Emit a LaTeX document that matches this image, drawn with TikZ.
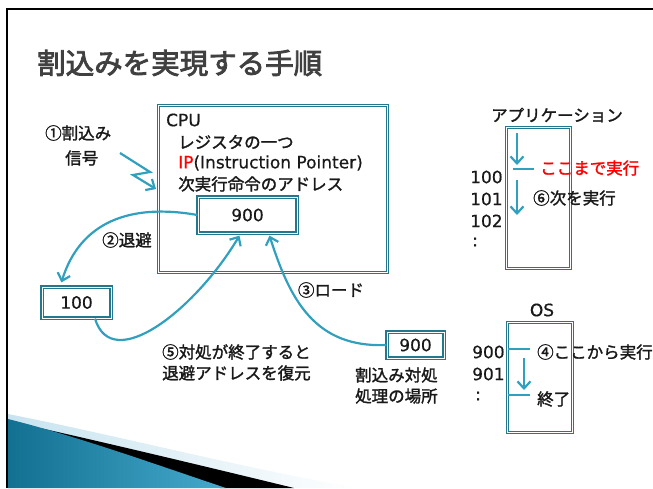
\documentclass[tikz,border=0pt]{standalone}
\usepackage{fontspec}
\setmainfont{Noto Sans CJK JP}[FakeBold=1.6]
\newfontfamily\titlefont{Noto Sans CJK JP}[FakeBold=2.8]
\newfontfamily\lat{DejaVu Sans}[FakeBold=0.6]
\usetikzlibrary{arrows.meta,calc}
\definecolor{boxdark}{RGB}{35,120,142}
\definecolor{arrowc}{RGB}{48,160,190}
\definecolor{titlec}{RGB}{64,64,64}
\definecolor{lightband}{RGB}{200,228,240}
\definecolor{tealA}{RGB}{18,112,145}
\definecolor{tealB}{RGB}{70,170,205}
\begin{document}
\begin{tikzpicture}[x=1pt,y=-1pt,
  txt/.style={inner sep=0pt, font=\fontsize{16.5}{19}\selectfont, text=black!90},
  ltxt/.style={inner sep=0pt, font=\lat\fontsize{17}{19}\selectfont, text=black!90},
  titletxt/.style={inner sep=0pt, font=\titlefont\fontsize{28.5}{32}\selectfont, text=titlec},
  box/.style={draw=boxdark, line width=1.2pt, double=white, double distance=0.9pt, inner sep=0pt},
  arr/.style={draw=arrowc, line width=2.2pt, -{Straight Barb[length=7pt,width=13pt,line width=2.2pt]}},
  tickln/.style={draw=arrowc, line width=2.2pt}]
\useasboundingbox (0,0) rectangle (653,488);
% background swoosh
\shade[left color=lightband, right color=white] (8,414) .. controls (120,436) and (250,470) .. (360,488) -- (8,488) -- cycle;
\fill[black] (40,428) .. controls (120,446) and (220,470) .. (294,488) -- (220,488) .. controls (160,466) and (90,442) .. (40,428) -- cycle;
\shade[left color=tealA, right color=tealB] (8,419) .. controls (80,437) and (160,466) .. (226,488) -- (8,488) -- cycle;
% frame
\draw[line width=2pt] (7,488) -- (7,9) -- (653,9);
% title
\node[titletxt, anchor=west] (title) at (37,63) {割込みを実現する手順};
% CPU
\node[box, anchor=north west, minimum width=229pt, minimum height=167pt] (cpu) at (158,105) {};
\node[ltxt, anchor=west] (cpulbl) at (166,120) {CPU};
\node[txt, anchor=west] (reg) at (178,142) {レジスタの一つ};
\node[ltxt, anchor=west] (iplbl) at (178,163) {\textcolor{red}{IP}(Instruction Pointer)};
\node[txt, anchor=west] (next) at (178,184) {次実行命令のアドレス};
\node[box, minimum width=99pt, minimum height=36pt, ltxt] (ip) at (247.5,215) {900};
% interrupt signal
\node[txt, anchor=west] (sig1) at (45,133) {①割込み};
\node[txt, anchor=west] (sig2) at (65,158) {信号};
\coordinate (z0) at (120,153);
\coordinate (z1) at (150,172);
\coordinate (z2) at (133,175);
\coordinate (z3) at (156,189);
\draw[arr] (z0) -- (z1) -- (z2) -- (z3);
% saved address
\node[box, minimum width=69pt, minimum height=31pt, ltxt] (mem) at (76.5,302.5) {100};
\draw[arr] (ip.west) .. controls (130,203) and (80,222) .. ($(mem.north west)+(20,-4)$);
\node[txt] (l2) at (127,240) {②退避};
% restore
\draw[arr] ($(mem.south)+(18.5,0)$) .. controls (112,375) and (195,310) .. ($(ip.south)+(-8,2)$);
\node[txt, anchor=west] (l5a) at (162,352) {⑤対処が終了すると};
\node[txt, anchor=west] (l5b) at (162,373) {退避アドレスを復元};
% handler
\node[box, minimum width=57pt, minimum height=26pt, ltxt] (hb) at (415.5,345) {900};
\draw[arr] (hb.west) .. controls (315,348) and (290,300) .. ($(ip.south)+(22,2)$);
\node[txt] (l3) at (331,290) {③ロード};
\node[txt, anchor=west] (h1) at (355,375) {割込み対処};
\node[txt, anchor=west] (h2) at (355,396) {処理の場所};
% application
\node[txt] (apptitle) at (557,115) {アプリケーション};
\node[box, anchor=north west, minimum width=64pt, minimum height=141pt] (app) at (506,127) {};
\coordinate (a0) at (517,133);
\coordinate (a1) at (517,165);
\coordinate (t0) at (513,169);
\coordinate (t1) at (534,169);
\coordinate (a2) at (517,180);
\coordinate (a3) at (517,215);
\draw[arr] (a0) -- (a1);
\draw[tickln] (t0) -- (t1);
\draw[arr] (a2) -- (a3);
\node[txt, anchor=west, text=red] (here) at (540,168) {ここまで実行};
\node[txt, anchor=west] (l6) at (533,198) {⑥次を実行};
\node[ltxt, anchor=west] (n100) at (470,177) {100};
\node[ltxt, anchor=west] (n101) at (470,199) {101};
\node[ltxt, anchor=west] (n102) at (470,221) {102};
\node[ltxt, anchor=west] (ndots) at (472,242) {:};
% OS
\node[ltxt] (ostitle) at (542,310) {OS};
\node[box, anchor=north west, minimum width=65pt, minimum height=110pt] (os) at (507,322) {};
\coordinate (o0) at (508,349);
\coordinate (o1) at (530,349);
\coordinate (o2) at (524,358);
\coordinate (o3) at (524,390);
\coordinate (o4) at (508,395);
\coordinate (o5) at (530,395);
\draw[tickln] (o0) -- (o1);
\draw[arr] (o2) -- (o3);
\draw[tickln] (o4) -- (o5);
\node[txt, anchor=west] (l4) at (537,352) {④ここから実行};
\node[txt, anchor=west] (fin) at (537,399) {終了};
\node[ltxt, anchor=west] (m900) at (472,352) {900};
\node[ltxt, anchor=west] (m901) at (472,374) {901};
\node[ltxt, anchor=west] (mdots) at (475,396) {:};
\end{tikzpicture}
\end{document}
